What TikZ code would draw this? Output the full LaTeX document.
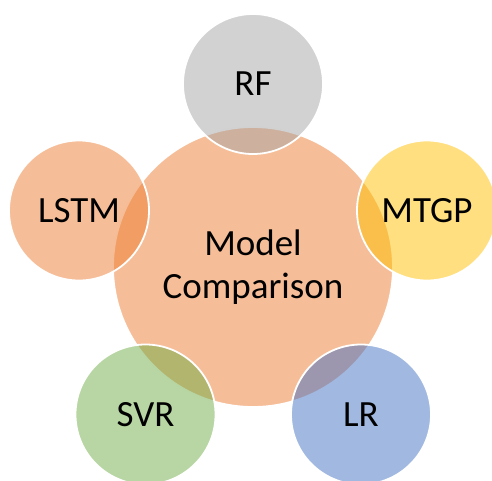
\documentclass[tikz,border=0pt]{standalone}
\usepackage{fontspec}
\setmainfont{Carlito}
\definecolor{cOrange}{HTML}{ED7D31}
\definecolor{cGray}{HTML}{A5A5A5}
\definecolor{cGold}{HTML}{FFC000}
\definecolor{cGreen}{HTML}{70AD47}
\definecolor{cBlue}{HTML}{4472C4}
\tikzset{
  bubble/.style={circle, inner sep=0pt, draw=white, line width=1.8pt,
    fill opacity=0.5, text opacity=1, text=black,
    font=\fontsize{37}{43}\selectfont, align=center},
  hub/.style={bubble, minimum size=280pt},
  sat/.style={bubble, minimum size=140pt}
}
\begin{document}
\begin{tikzpicture}[x=1pt,y=-1pt]
\useasboundingbox (0,0) rectangle (492,480);
\clip (0,0) rectangle (492,480);
\node[hub, fill=cOrange] (hub) at (253,267) {Model\\Comparison};
\node[sat, fill=cGray]   (rf)   at (253,84)    {RF};
\node[sat, fill=cGold]   (mtgp) at (427,210.5) {MTGP};
\node[sat, fill=cBlue]   (lr)   at (361,414.5) {LR};
\node[sat, fill=cGreen]  (svr)  at (145.5,414.5) {SVR};
\node[sat, fill=cOrange] (lstm) at (79,210.5)  {LSTM};
\end{tikzpicture}
\end{document}
